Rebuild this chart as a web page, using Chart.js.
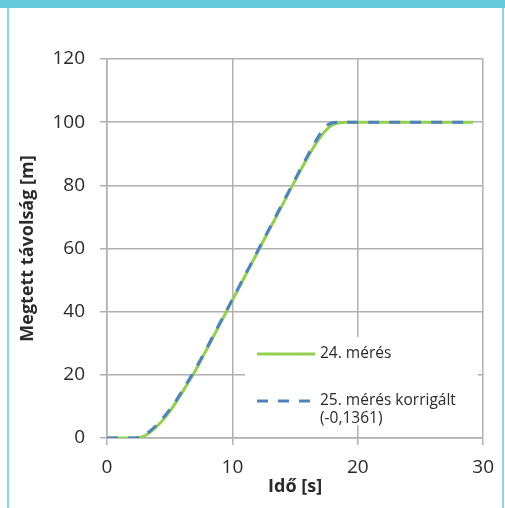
<!DOCTYPE html>
<html>
<head>
<meta charset="utf-8">
<script src="https://cdn.jsdelivr.net/npm/chart.js@4"></script>
<style>
  html, body { margin: 0; padding: 0; background: #fff; }
  #wrap { position: relative; width: 505px; height: 508px; overflow: hidden; }
  #topbar { position: absolute; left: 0; top: 0; width: 505px; height: 8px; background: #64c9dd; }
  .side { position: absolute; top: 8px; bottom: 0; width: 2px; background: #8ad6e6; }
  canvas { position: absolute; left: 0; top: 0; }
</style>
</head>
<body>
<div id="wrap">
  <canvas id="myChart" width="505" height="508"></canvas>
  <div id="topbar"></div>
  <div class="side" style="left:7px"></div>
  <div class="side" style="left:502px"></div>
</div>
<script>
// Time points [s]
const times = [0, 1, 2, 2.5, 3, 3.5, 4, 4.5, 5, 5.5, 6, 6.5, 7, 7.5, 8, 8.5, 9, 9.5,
  10, 10.5, 11, 11.5, 12, 12.5, 13, 13.5, 14, 14.5, 15, 15.5, 16, 16.5, 17, 17.5,
  18, 18.5, 19, 20, 22, 24, 26, 28, 29.2];

// Distance [m], 24. mérés
const meres24 = [0, 0, 0, 0.1, 0.7, 2.0, 3.8, 5.9, 8.4, 11.3, 14.4, 17.7, 21.0, 24.7,
  28.4, 32.2, 36.0, 39.8, 43.6, 47.4, 51.2, 55.0, 58.8, 62.6, 66.4, 70.1, 73.9, 77.7,
  81.5, 85.2, 88.8, 92.2, 95.2, 97.6, 99.2, 99.8, 100, 100, 100, 100, 100, 100, 100];

// Distance [m], 25. mérés korrigált
const meres25 = [0, 0, 0, 0.2, 1.0, 2.4, 4.3, 6.5, 9.0, 11.8, 14.9, 18.2, 21.5, 25.1,
  28.8, 32.6, 36.4, 40.1, 43.9, 47.7, 51.5, 55.3, 59.1, 62.9, 66.7, 70.5, 74.3, 78.1,
  81.9, 85.7, 89.4, 93.0, 96.3, 98.9, 99.8, 100, 100, 100, 100, 100, 100, 100, 100];

const seriesLabels = [["24. mérés"], ["25. mérés korrigált", "(-0,1361)"]];
const xTicks = [0, 10, 20, 30];
const yTicks = [0, 20, 40, 60, 80, 100, 120];

const gridColor = "#b0b0b0";
const textColor = "#2a2a2a";
const fontFamily = "'Open Sans', sans-serif";

// legend drawn inside the plot, with white box over the grid
const legendInside = {
  id: "legendInside",
  afterDatasetsDraw(chart) {
    const { ctx, chartArea } = chart;
    const x0 = chartArea.left + 138;
    const y0 = chartArea.top + 278;
    ctx.save();
    ctx.fillStyle = "#fff";
    ctx.fillRect(x0, y0, 233, 88);
    chart.data.datasets.forEach((ds, i) => {
      const ly = y0 + 17 + i * 47;
      ctx.strokeStyle = ds.borderColor;
      ctx.lineWidth = 3;
      ctx.setLineDash(ds.borderDash || []);
      ctx.beginPath();
      ctx.moveTo(x0 + 12, ly);
      ctx.lineTo(x0 + 70, ly);
      ctx.stroke();
      ctx.setLineDash([]);
      ctx.fillStyle = textColor;
      ctx.font = "15.5px " + fontFamily;
      ctx.textBaseline = "middle";
      seriesLabels[i].forEach((line, j) => ctx.fillText(line, x0 + 75, ly + j * 18));
    });
    ctx.restore();
  },
};

const toPoints = (vals) => times.map((t, i) => ({ x: t, y: vals[i] }));

new Chart(document.getElementById("myChart"), {
  type: "line",
  data: {
    datasets: [
      {
        label: seriesLabels[0].join(" "),
        data: toPoints(meres24),
        borderColor: "#92d050",
        borderWidth: 3,
        pointRadius: 0,
        cubicInterpolationMode: "monotone",
        order: 1,
      },
      {
        label: seriesLabels[1].join(" "),
        data: toPoints(meres25),
        borderColor: "#4f81bd",
        borderWidth: 3,
        borderDash: [11, 10],
        pointRadius: 0,
        cubicInterpolationMode: "monotone",
        order: 0,
      },
    ],
  },
  options: {
    responsive: false,
    animation: false,
    layout: { padding: { top: 59, right: 18, bottom: 0, left: 0 } },
    plugins: { legend: { display: false }, tooltip: { enabled: false } },
    scales: {
      x: {
        type: "linear",
        min: 0,
        max: 30,
        afterBuildTicks: (s) => { s.ticks = xTicks.map((v) => ({ value: v })); },
        afterFit: (s) => { s.height = 70; },
        ticks: { color: textColor, font: { family: fontFamily, size: 19 }, padding: 11, maxRotation: 0 },
        grid: { color: gridColor, lineWidth: 1.5, tickLength: 7 },
        border: { color: gridColor, width: 1.5 },
        title: {
          display: true,
          text: "Idő [s]",
          color: textColor,
          font: { family: fontFamily, size: 18, weight: "bold" },
          padding: { top: 0, bottom: 10 },
        },
      },
      y: {
        min: 0,
        max: 120,
        afterBuildTicks: (s) => { s.ticks = yTicks.map((v) => ({ value: v })); },
        afterFit: (s) => { s.width = 107; },
        ticks: { color: textColor, font: { family: fontFamily, size: 19 }, padding: 15 },
        grid: { color: gridColor, lineWidth: 1.5, tickLength: 7 },
        border: { color: gridColor, width: 1.5 },
        title: {
          display: true,
          text: "Megtett távolság [m]",
          color: textColor,
          font: { family: fontFamily, size: 18, weight: "bold" },
          padding: { top: 17, bottom: 0 },
        },
      },
    },
  },
  plugins: [legendInside],
});
</script>
</body>
</html>
